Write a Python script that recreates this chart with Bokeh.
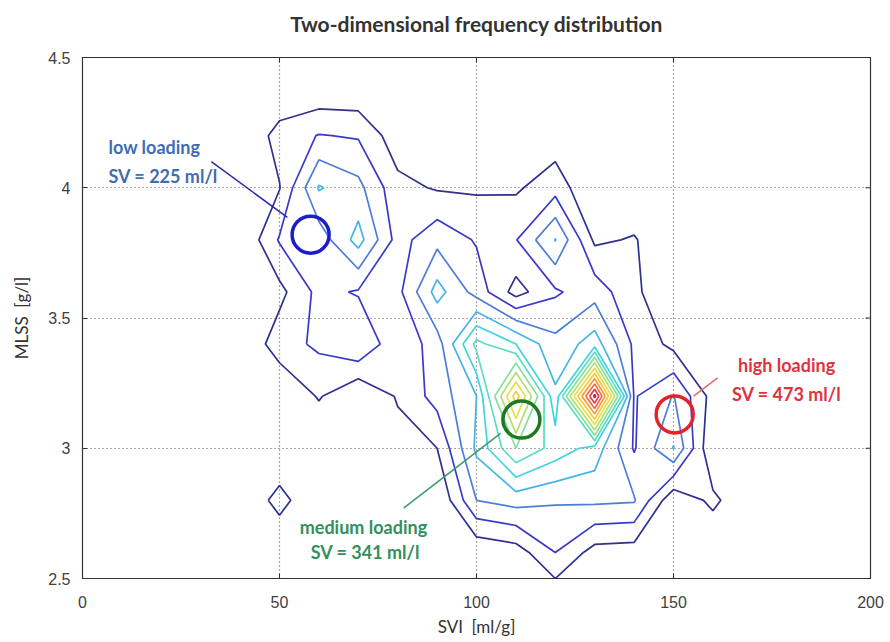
import numpy as np
from bokeh.plotting import figure
from bokeh.models import Range1d, FixedTicker, NumeralTickFormatter, Label, LinearAxis
from bokeh.embed import file_html
from bokeh.resources import INLINE

# ---- data -------------------------------------------------------------
svi = [30, 40, 50, 60, 70, 80, 90, 100, 110, 120, 130, 140, 150, 160, 170, 180]
mlss = [2.4, 2.6, 2.8, 3.0, 3.2, 3.4, 3.6, 3.8, 4.0, 4.2, 4.4]

# frequency rows, listed from MLSS = 4.4 (top) down to 2.4 (bottom)
freq_rows_top_down = [
    [0, 0, 0,    0,    0,   0,   0,   0,   0,    0,    0,    0,   0,    0,    0, 0],  # 4.4
    [0, 0, 1.4,  2.05, 1.9, 0.4, 0,   0,   0,    0.4,  0,    0,   0,    0,    0, 0],  # 4.2
    [0, 0, 0.95, 4.1,  3.3, 1.3, 0.9, 0.85, 0.85, 1.6, 0,    0,   0,    0,    0, 0],  # 4.0
    [0, 0, 2.1,  2.4,  4.4, 1.6, 2.7, 1.9, 1.95, 4.05, 0.8,  1.1, 0,    0,    0, 0],  # 3.8
    [0, 0, 0.7,  2.3,  1.9, 1.7, 4.4, 2.6, 0.6,  1.85, 2.6,  1.2, 0.2,  0,    0, 0],  # 3.6
    [0, 0, 1.56, 2.2,  3.0, 1.2, 2.5, 6.3, 5.0,  3.3,  4.5,  1.8, 0.7,  0,    0, 0],  # 3.4
    [0, 0, 0,    1.1,  0,   1.1, 2.4, 4.0, 10.5, 4.2,  14.3, 1.9, 3.05, 0.6,  0, 0],  # 3.2
    [0, 0, 0,    0,    0,   0.6, 1.0, 4.2, 7.0,  5.6,  4.6,  1.9, 4.05, 0,    0, 0],  # 3.0
    [0, 0, 1.4,  0,    0,   0,   0,   3.0, 3.4,  3.1,  3.2,  3.1, 0.2,  1.25, 0, 0],  # 2.8
    [0, 0, 0,    0,    0,   0,   0,   0.15, 0.5, 2.0,  0.6,  0.5, 0.4,  0,    0, 0],  # 2.6
    [0, 0, 0,    0,    0,   0,   0,   0,   0,    0,    0,    0,   0,    0,    0, 0],  # 2.4
]

levels = [1, 2, 3, 4, 5, 6, 7, 8, 9, 10, 11, 12, 13, 14]
level_colors = ["#30308e", "#3a3ac8", "#4c7ed8", "#46b4e4", "#3fd4e0", "#5cdcc0",
                "#84e09a", "#b4e070", "#e4e048", "#f8c83a", "#f8983a", "#f06a42",
                "#e03a4e", "#b82250"]

x_ticks = [0, 50, 100, 150, 200]
y_ticks = [2.5, 3.0, 3.5, 4.0, 4.5]

loading_x = [57.9, 111.4, 150.3]
loading_y = [3.82, 3.11, 3.13]
loading_colors = ["#1c1ccc", "#1b7a22", "#e3222a"]

z = np.array(freq_rows_top_down[::-1], dtype=float)

X0, X1, Y0, Y1 = 0, 200, 2.5, 4.5
PLOT_W, PLOT_H = 788, 521  # frame size in px

# ---- figure -----------------------------------------------------------
p = figure(width=890, height=642, output_backend="svg", toolbar_location=None,
           x_range=Range1d(X0, X1), y_range=Range1d(Y0, Y1),
           min_border_left=82, min_border_right=20, min_border_top=57, min_border_bottom=64)
p.background_fill_color = "white"
p.border_fill_color = "white"
p.outline_line_color = "#333333"
p.outline_line_width = 1.2

xaxis = p.below[0]
yaxis = p.left[0]
for ax in (xaxis, yaxis):
    ax.major_tick_in = 5
    ax.major_tick_out = 0
    ax.minor_tick_line_color = None
    ax.axis_line_color = "#333333"
    ax.major_tick_line_color = "#333333"
    ax.major_label_text_font = "Liberation Sans"
    ax.major_label_text_font_size = "16px"
    ax.major_label_text_color = "#404040"
    ax.axis_label_text_font = "Lato"
    ax.axis_label_text_font_size = "17px"
    ax.axis_label_text_font_style = "normal"
    ax.axis_label_text_color = "#333333"
    ax.formatter = NumeralTickFormatter(format="0.[0]")

xaxis.ticker = FixedTicker(ticks=x_ticks)
yaxis.ticker = FixedTicker(ticks=y_ticks)
xaxis.axis_label = "SVI \u00a0[ml/g]"
yaxis.axis_label = "MLSS \u00a0[g/l]"
xaxis.major_label_standoff = 17
xaxis.axis_label_standoff = 5
yaxis.major_label_standoff = 12
yaxis.axis_label_standoff = 13

# title: drawn as the label of a tick-less axis above the frame
title_axis = LinearAxis(ticker=FixedTicker(ticks=[]), axis_line_color=None,
                        major_tick_line_color=None, minor_tick_line_color=None,
                        major_label_text_color=None,
                        axis_label="Two-dimensional frequency distribution",
                        axis_label_text_font="Lato", axis_label_text_font_size="21px",
                        axis_label_text_font_style="bold", axis_label_text_color="#333333",
                        axis_label_standoff=22)
p.add_layout(title_axis, "above")

# inward box ticks on the top and right edges (as with MATLAB "box on")
tick_dy = 5 * (Y1 - Y0) / PLOT_H
tick_dx = 5 * (X1 - X0) / PLOT_W
p.segment(x0=x_ticks, y0=[Y1] * len(x_ticks), x1=x_ticks, y1=[Y1 - tick_dy] * len(x_ticks),
          line_color="#333333", line_width=1)
p.segment(x0=[X1] * len(y_ticks), y0=y_ticks, x1=[X1 - tick_dx] * len(y_ticks), y1=y_ticks,
          line_color="#333333", line_width=1)

p.xgrid.ticker = FixedTicker(ticks=x_ticks)
p.ygrid.ticker = FixedTicker(ticks=y_ticks)
for g in (p.xgrid, p.ygrid):
    g.grid_line_color = "#555555"
    g.grid_line_dash = "1 3"
    g.grid_line_width = 1.2

# ---- contours ---------------------------------------------------------
p.contour(x=svi, y=mlss, z=z, levels=levels, line_color=level_colors,
          line_width=1.7, fill_color=None)

# ---- annotations ------------------------------------------------------
p.segment(x0=[32.7, 81.5, 161.2], y0=[4.10, 2.77, 3.27],
          x1=[52.0, 106.1, 155.1], y1=[3.886, 3.057, 3.20],
          line_color=["#2a2aa6", "#3a9a72", "#e06a6a"], line_width=1.5)

p.scatter(x=loading_x, y=loading_y, marker="circle", size=37, fill_color=None,
          line_color=loading_colors, line_width=3.5)

texts = [
    (6.6, 4.155, "low loading", "#3f6db4", "left"),
    (6.6, 4.047, "SV = 225 ml/l", "#3f6db4", "left"),
    (178.7, 3.318, "high loading", "#e0323c", "center"),
    (178.7, 3.21, "SV = 473 ml/l", "#e0323c", "center"),
    (71.3, 2.696, "medium loading", "#33905c", "center"),
    (71.8, 2.60, "SV = 341 ml/l", "#33905c", "center"),
]
for tx, ty, t, c, al in texts:
    p.add_layout(Label(x=tx, y=ty, text=t, text_color=c, text_font="Lato",
                       text_font_style="bold", text_font_size="18px",
                       text_align=al, text_baseline="middle"))

open("out.html", "w").write(file_html(p, INLINE))
